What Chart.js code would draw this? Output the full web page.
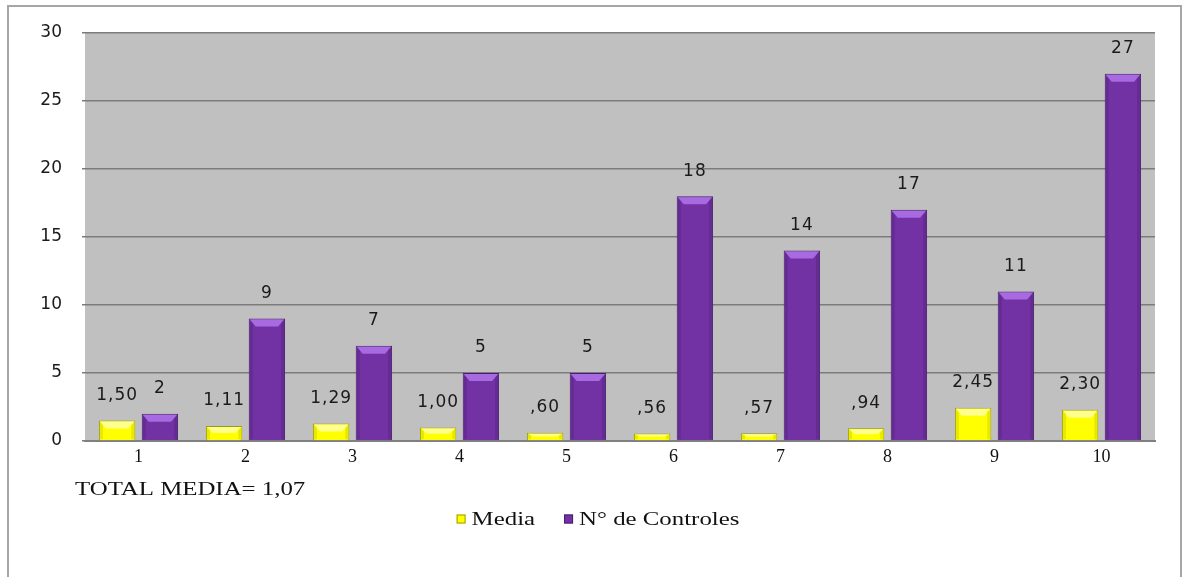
<!DOCTYPE html>
<html>
<head>
<meta charset="utf-8">
<script src="https://cdn.jsdelivr.net/npm/chart.js@4.4.1/dist/chart.umd.min.js"></script>
<style>
  html, body { margin: 0; padding: 0; background: #fff; }
  #wrap { width: 1184px; height: 577px; position: relative; }
</style>
</head>
<body>
<div id="wrap"><canvas id="controlesChart"></canvas></div>
<script>
const categories = ["1", "2", "3", "4", "5", "6", "7", "8", "9", "10"];
const media = [1.50, 1.11, 1.29, 1.00, 0.60, 0.56, 0.57, 0.94, 2.45, 2.30];
const controles = [2, 9, 7, 5, 5, 18, 14, 17, 11, 27];
const yTicks = [0, 5, 10, 15, 20, 25, 30];
const totalMedia = 1.07;

// 1,50 / ,60 style
function fmtComma(v, decimals) {
  let s = v.toFixed(decimals).replace(".", ",");
  if (s.startsWith("0,")) s = s.slice(1);
  return s;
}

const sansFont = "'DejaVu Sans', Verdana, sans-serif";
const serifFont = "'Liberation Serif', 'Times New Roman', serif";

// draws text stretched horizontally by sx, left aligned at x
function wideText(ctx, text, x, y, sx) {
  ctx.save();
  ctx.translate(x, y);
  ctx.scale(sx, 1);
  ctx.fillText(text, 0, 0);
  ctx.restore();
  return ctx.measureText(text).width * sx;
}

const plotBackground = {
  id: "plotBackground",
  beforeDraw(chart) {
    const { ctx, chartArea: a } = chart;
    ctx.save();
    // outer frame
    ctx.strokeStyle = "#a6a6a6";
    ctx.lineWidth = 2;
    ctx.strokeRect(8, 6, 1173, 640);
    ctx.fillStyle = "#c0c0c0";
    ctx.fillRect(a.left, a.top, a.right - a.left, a.bottom - a.top);
    ctx.restore();
  }
};

// shaded edges on each bar plus the value written above it
const barDecor = {
  id: "barDecor",
  afterDatasetsDraw(chart) {
    const ctx = chart.ctx;
    chart.data.datasets.forEach((ds, di) => {
      const meta = chart.getDatasetMeta(di);
      meta.data.forEach((bar, i) => {
        const { x, y, base, width } = bar.getProps(["x", "y", "base", "width"], true);
        const l = x - width / 2, r = x + width / 2;
        const bev = Math.min(8, (base - y) / 2);
        ctx.save();
        ctx.fillStyle = ds.bevelSide;
        ctx.fillRect(l + 1, y + 1, 3, base - y - 2);
        ctx.fillRect(r - 4, y + 1, 3, base - y - 2);
        ctx.fillStyle = ds.bevelTop;
        ctx.beginPath();
        ctx.moveTo(l + 1, y + 1);
        ctx.lineTo(r - 1, y + 1);
        ctx.lineTo(r - 7, y + bev);
        ctx.lineTo(l + 7, y + bev);
        ctx.closePath();
        ctx.fill();
        ctx.restore();

        ctx.save();
        ctx.font = "17px " + sansFont;
        ctx.fillStyle = "#1a1a1a";
        ctx.textAlign = "center";
        ctx.textBaseline = "middle";
        ctx.letterSpacing = "1px";
        ctx.fillText(ds.fmt(ds.data[i]), x, y - 25);
        ctx.restore();
      });
    });
  }
};

// footnote and legend under the axis
const footer = {
  id: "footer",
  afterDraw(chart) {
    const ctx = chart.ctx;
    ctx.save();
    ctx.font = "18px " + serifFont;
    ctx.fillStyle = "#111";
    ctx.textBaseline = "middle";
    wideText(ctx, "TOTAL MEDIA= " + fmtComma(totalMedia, 2), 75, 490, 1.38);

    const sx = 1.38, box = 9, ly = 519;
    const items = chart.data.datasets.map(ds => ({
      text: ds.label,
      color: ds.backgroundColor,
      edge: ds.borderColor,
      w: ctx.measureText(ds.label).width * sx
    }));
    const gap = 29;
    const total = items.reduce((s, it) => s + box + 6 + it.w, 0) + gap * (items.length - 1);
    let x = 598 - total / 2;
    items.forEach(it => {
      ctx.fillStyle = it.color;
      ctx.fillRect(x, ly - box / 2, box, box);
      ctx.strokeStyle = it.edge;
      ctx.lineWidth = 1;
      ctx.strokeRect(x + 0.5, ly - box / 2 + 0.5, box - 1, box - 1);
      ctx.fillStyle = "#111";
      wideText(ctx, it.text, x + box + 6, ly + 1, sx);
      x += box + 6 + it.w + gap;
    });
    ctx.restore();
  }
};

new Chart(document.getElementById("controlesChart"), {
  type: "bar",
  data: {
    labels: categories,
    datasets: [
      {
        label: "Media",
        data: media,
        backgroundColor: "#ffff00",
        borderColor: "#9a9a10",
        borderWidth: 1,
        bevelTop: "#ffff8c",
        bevelSide: "#e8e800",
        fmt: v => fmtComma(v, 2)
      },
      {
        label: "N° de Controles",
        data: controles,
        backgroundColor: "#7232a4",
        borderColor: "#4a1f6e",
        borderWidth: 1,
        bevelTop: "#a86ae0",
        bevelSide: "#642c92",
        fmt: v => String(v)
      }
    ]
  },
  options: {
    responsive: true,
    maintainAspectRatio: false,
    animation: false,
    categoryPercentage: 0.8,
    barPercentage: 0.85,
    layout: { padding: { left: 10, right: 29, top: 33, bottom: 106 } },
    plugins: {
      legend: { display: false },
      tooltip: { enabled: false }
    },
    scales: {
      x: {
        grid: { display: false, drawTicks: false },
        border: { color: "#808080", width: 2 },
        ticks: { color: "#111", padding: 5, font: { family: serifFont, size: 18 } },
        afterFit: s => { s.height = 30; }
      },
      y: {
        min: 0,
        max: 30,
        afterBuildTicks: s => { s.ticks = yTicks.map(v => ({ value: v })); },
        grid: { color: "#7c7c7c", lineWidth: 1.5, tickLength: 3 },
        border: { display: false },
        ticks: { color: "#1a1a1a", padding: 20, font: { family: sansFont, size: 17 } },
        afterFit: s => { s.width = 75; }
      }
    }
  },
  plugins: [plotBackground, barDecor, footer]
});
</script>
</body>
</html>
